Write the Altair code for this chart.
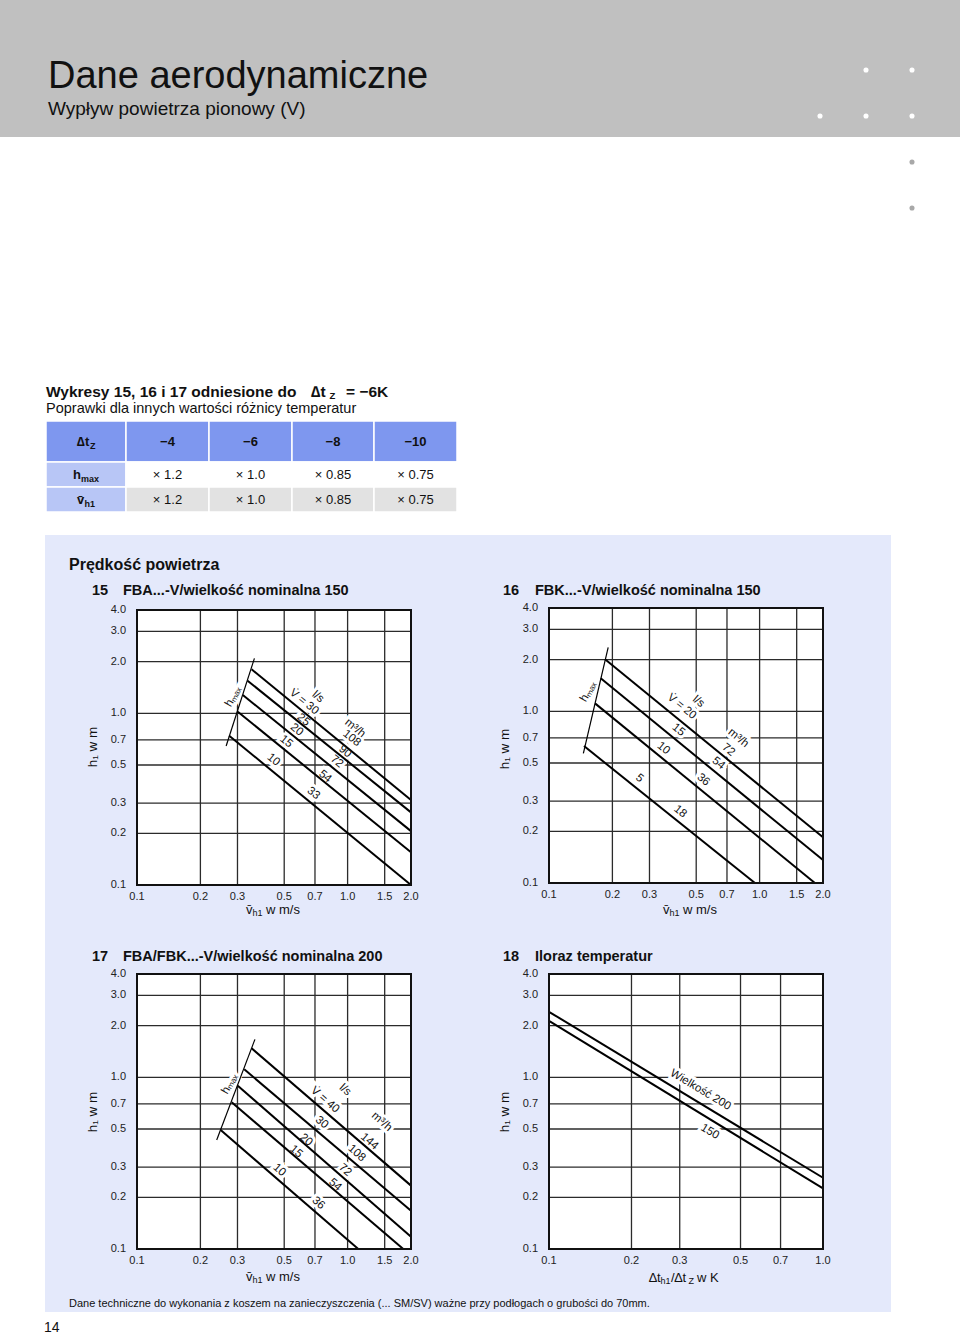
import altair as alt
import pandas as pd

FONT = "Liberation Sans"
INK = "#111111"
GRID = "#2b2b2b"

# ================= values =================
V_TICKS = [0.1, 0.2, 0.3, 0.5, 0.7, 1.0, 1.5, 2.0]
V_TICK_LABELS = ["0.1", "0.2", "0.3", "0.5", "0.7", "1.0", "1.5", "2.0"]
R_TICKS = [0.1, 0.2, 0.3, 0.5, 0.7, 1.0]
R_TICK_LABELS = ["0.1", "0.2", "0.3", "0.5", "0.7", "1.0"]
H_TICKS = [0.1, 0.2, 0.3, 0.5, 0.7, 1.0, 2.0, 3.0, 4.0]
H_TICK_LABELS = ["0.1", "0.2", "0.3", "0.5", "0.7", "1.0", "2.0", "3.0", "4.0"]

TABLE_DT = ["−4", "−6", "−8", "−10"]
TABLE_HMAX = ["× 1.2", "× 1.0", "× 0.85", "× 0.75"]
TABLE_VH1 = ["× 1.2", "× 1.0", "× 0.85", "× 0.75"]

# chart 15  FBA...-V / 150
C15_ID = ["30", "25", "20", "15", "10"]
C15_V_START = [0.350, 0.335, 0.318, 0.301, 0.274]
C15_H_START = [1.805, 1.549, 1.279, 1.022, 0.741]
C15_V_END = [2.0, 2.0, 2.0, 2.0, 2.0]
C15_H_END = [0.313, 0.265, 0.206, 0.155, 0.100]
C15_HMAX_V = [0.265, 0.361]
C15_HMAX_H = [0.645, 2.09]
C15_LABEL = ["V̇ = 30", "l/s", "25", "20", "15", "10", "m³/h", "108", "90", "72", "54", "33", "hₘₐₓ"]
C15_LABEL_V = [0.621, 0.723, 0.616, 0.573, 0.510, 0.444, 1.084, 1.046, 0.972, 0.888, 0.781, 0.687, 0.287]
C15_LABEL_H = [1.164, 1.245, 0.914, 0.800, 0.684, 0.535, 0.818, 0.715, 0.598, 0.523, 0.428, 0.342, 1.25]

# chart 16  FBK...-V / 150
C16_ID = ["20", "15", "10", "5"]
C16_V_START = [0.1845, 0.176, 0.1654, 0.1466]
C16_H_START = [2.01, 1.557, 1.113, 0.628]
C16_V_END = [2.0, 2.0, 1.83, 0.95]
C16_H_END = [0.1845, 0.136, 0.1, 0.1]
C16_HMAX_V = [0.1456, 0.191]
C16_HMAX_H = [0.569, 2.36]
C16_LABEL = ["V̇ = 20", "l/s", "15", "10", "5", "m³/h", "72", "54", "36", "18", "hₘₐₓ"]
C16_LABEL_V = [0.4265, 0.512, 0.411, 0.349, 0.2685, 0.792, 0.710, 0.637, 0.540, 0.419, 0.154]
C16_LABEL_H = [1.064, 1.138, 0.778, 0.609, 0.407, 0.697, 0.595, 0.498, 0.398, 0.260, 1.30]

# chart 17  FBA/FBK...-V / 200
C17_ID = ["40", "30", "20", "15", "10"]
C17_V_START = [0.350, 0.323, 0.301, 0.2816, 0.2496]
C17_H_START = [1.476, 1.114, 0.894, 0.715, 0.493]
C17_V_END = [2.0, 2.0, 2.0, 1.838, 1.124]
C17_H_END = [0.234, 0.167, 0.118, 0.1, 0.1]
C17_HMAX_V = [0.239, 0.363]
C17_HMAX_H = [0.4316, 1.665]
C17_LABEL = ["V̇ = 40", "l/s", "30", "20", "15", "10", "m³/h", "144", "108", "72", "54", "36", "hₘₐₓ"]
C17_LABEL_V = [0.781, 0.972, 0.753, 0.634, 0.569, 0.474, 1.451, 1.268, 1.104, 0.972, 0.871, 0.726, 0.2764]
C17_LABEL_H = [0.738, 0.844, 0.545, 0.431, 0.369, 0.288, 0.551, 0.422, 0.361, 0.288, 0.236, 0.1846, 0.914]

# chart 18  Iloraz temperatur
C18_ID = ["200", "150"]
C18_R_START = [0.1, 0.1]
C18_H_START = [2.41, 2.13]
C18_R_END = [1.0, 1.0]
C18_H_END = [0.260, 0.2257]
C18_LABEL = ["Wielkość 200", "150"]
C18_LABEL_R = [0.357, 0.386]
C18_LABEL_H = [0.844, 0.482]

# ================= layout (pixels) =================
G15 = dict(l=137, r=411, t=610, b=885)
G16 = dict(l=549, r=823, t=608, b=883)
G17 = dict(l=137, r=411, t=974, b=1249)
G18 = dict(l=549, r=823, t=974, b=1249)


def segments(ids, v0, h0, v1, h1):
    rows = []
    for i, a, b, c, d in zip(ids, v0, h0, v1, h1):
        rows.append({"id": i, "k": 0, "v": a, "h": b})
        rows.append({"id": i, "k": 1, "v": c, "h": d})
    return pd.DataFrame(rows)


def panel(g, xticks, xlabels, curves, hmax, labels):
    xs = alt.Scale(type="log", domain=[xticks[0], xticks[-1]], range=[g["l"], g["r"]])
    ys = alt.Scale(type="log", domain=[H_TICKS[0], H_TICKS[-1]], range=[g["b"], g["t"]])

    def X(f):
        return alt.X(f"{f}:Q", scale=xs, axis=None)

    def Y(f):
        return alt.Y(f"{f}:Q", scale=ys, axis=None)

    box = pd.DataFrame({"v0": [xticks[0]], "v1": [xticks[-1]], "h0": [H_TICKS[0]], "h1": [H_TICKS[-1]]})
    layers = []
    layers.append(alt.Chart(box).mark_rect(color="white").encode(x=X("v0"), x2="v1", y=Y("h0"), y2="h1"))
    vg = pd.DataFrame({"v": xticks[1:-1]})
    vg["h0"] = H_TICKS[0]
    vg["h1"] = H_TICKS[-1]
    layers.append(alt.Chart(vg).mark_rule(color=GRID, strokeWidth=1.3).encode(x=X("v"), y=Y("h0"), y2="h1"))
    hg = pd.DataFrame({"h": H_TICKS[1:-1]})
    hg["v0"] = xticks[0]
    hg["v1"] = xticks[-1]
    layers.append(alt.Chart(hg).mark_rule(color=GRID, strokeWidth=1.3).encode(y=Y("h"), x=X("v0"), x2="v1"))
    # label halos (interrupt grid lines like in the original)
    layers.append(alt.Chart(labels).mark_text(font=FONT, fontSize=11.5, fill="white", stroke="white",
                                              strokeWidth=6, align="center", baseline="middle").encode(
        x=X("v"), y=Y("h"), text="t:N", angle=alt.Angle("a:Q", scale=None)))
    layers.append(alt.Chart(curves).mark_line(color="black", strokeWidth=2).encode(
        x=X("v"), y=Y("h"), detail="id:N", order="k:Q"))
    if hmax is not None:
        layers.append(alt.Chart(hmax).mark_line(color="black", strokeWidth=1.2).encode(
            x=X("v"), y=Y("h"), detail="id:N", order="k:Q"))
    layers.append(alt.Chart(box).mark_rect(fillOpacity=0, stroke=INK, strokeWidth=2).encode(
        x=X("v0"), x2="v1", y=Y("h0"), y2="h1"))
    layers.append(alt.Chart(labels).mark_text(font=FONT, fontSize=11.5, color=INK, align="center",
                                              baseline="middle").encode(
        x=X("v"), y=Y("h"), text="t:N", angle=alt.Angle("a:Q", scale=None)))
    xl = pd.DataFrame({"v": xticks, "t": xlabels})
    layers.append(alt.Chart(xl).mark_text(font=FONT, fontSize=11, color="#222222", align="center",
                                          baseline="middle").encode(
        x=X("v"), y=alt.value(g["b"] + 12), text="t:N"))
    yl = pd.DataFrame({"h": H_TICKS, "t": H_TICK_LABELS})
    layers.append(alt.Chart(yl).mark_text(font=FONT, fontSize=11, color="#222222", align="right",
                                          baseline="middle").encode(
        y=Y("h"), x=alt.value(g["l"] - 11), text="t:N"))
    return layers


def labels_df(texts, vs, hs, angle, hmax_angle=300):
    a = [hmax_angle if t.startswith("h") else angle for t in texts]
    return pd.DataFrame({"t": texts, "v": vs, "h": hs, "a": a})


p15 = panel(G15, V_TICKS, V_TICK_LABELS,
            segments(C15_ID, C15_V_START, C15_H_START, C15_V_END, C15_H_END),
            segments(["h"], [C15_HMAX_V[0]], [C15_HMAX_H[0]], [C15_HMAX_V[1]], [C15_HMAX_H[1]]),
            labels_df(C15_LABEL, C15_LABEL_V, C15_LABEL_H, 39))
p16 = panel(G16, V_TICKS, V_TICK_LABELS,
            segments(C16_ID, C16_V_START, C16_H_START, C16_V_END, C16_H_END),
            segments(["h"], [C16_HMAX_V[0]], [C16_HMAX_H[0]], [C16_HMAX_V[1]], [C16_HMAX_H[1]]),
            labels_df(C16_LABEL, C16_LABEL_V, C16_LABEL_H, 39))
p17 = panel(G17, V_TICKS, V_TICK_LABELS,
            segments(C17_ID, C17_V_START, C17_H_START, C17_V_END, C17_H_END),
            segments(["h"], [C17_HMAX_V[0]], [C17_HMAX_H[0]], [C17_HMAX_V[1]], [C17_HMAX_H[1]]),
            labels_df(C17_LABEL, C17_LABEL_V, C17_LABEL_H, 41))
p18 = panel(G18, R_TICKS, R_TICK_LABELS,
            segments(C18_ID, C18_R_START, C18_H_START, C18_R_END, C18_H_END),
            None,
            labels_df(C18_LABEL, C18_LABEL_R, C18_LABEL_H, 31))

# ================= page decoration =================
PX = lambda f: alt.X(f"{f}:Q", scale=None, axis=None)
PY = lambda f: alt.Y(f"{f}:Q", scale=None, axis=None)

rects = pd.DataFrame([
    dict(x=0, x2=960, y=0, y2=137, c="#c0c0c0"),
    dict(x=45, x2=891, y=535, y2=1312, c="#e4e9fb"),
])
deco = [alt.Chart(rects).mark_rect().encode(x=PX("x"), x2="x2", y=PY("y"), y2="y2",
                                            color=alt.Color("c:N", scale=None))]

col_edges = [46, 126, 209, 292, 374, 457]
row_edges = [421, 462, 487, 512]
cells = []
for r in range(3):
    for c in range(5):
        if r == 0:
            col = "#7e97ef"
        elif c == 0:
            col = "#b8c6f6"
        elif r == 1:
            col = "#ffffff"
        else:
            col = "#e2e2e2"
        cells.append(dict(x=col_edges[c], x2=col_edges[c + 1], y=row_edges[r], y2=row_edges[r + 1], c=col))
deco.append(alt.Chart(pd.DataFrame(cells)).mark_rect(stroke="white", strokeWidth=1.5).encode(
    x=PX("x"), x2="x2", y=PY("y"), y2="y2", color=alt.Color("c:N", scale=None)))

dots = pd.DataFrame([
    dict(x=866, y=70, c="#ffffff"), dict(x=912, y=70, c="#ffffff"),
    dict(x=820, y=116, c="#ffffff"), dict(x=866, y=116, c="#ffffff"), dict(x=912, y=116, c="#ffffff"),
    dict(x=912, y=162, c="#a8a8a8"), dict(x=912, y=208, c="#a8a8a8"),
])
deco.append(alt.Chart(dots).mark_circle(size=26, opacity=1).encode(
    x=PX("x"), y=PY("y"), color=alt.Color("c:N", scale=None)))

texts = []  # (text, x, y, size, weight, align, angle)


def T(t, x, y, s, w="normal", a="left", ang=0):
    texts.append(dict(t=t, x=x, y=y, s=s, w=w, al=a, ang=ang))


T("Dane aerodynamiczne", 48, 88, 38)
T("Wypływ powietrza pionowy (V)", 48, 115, 19)
T("Wykresy 15, 16 i 17 odniesione do", 46, 397, 15.5, "bold")
T("∆t", 311, 397, 15.5, "bold")
T("Z", 329.5, 398.5, 9.5, "bold")
T("= −6K", 346, 397, 15.5, "bold")
T("Poprawki dla innych wartości różnicy temperatur", 46, 413, 14.5)

# table
T("∆t", 77, 446, 13, "bold")
T("Z", 90, 449, 9, "bold")
T("h", 73, 479, 13, "bold")
T("max", 81, 482, 9, "bold")
T("v̄", 77, 504, 13, "bold")
T("h1", 84.5, 507, 9, "bold")
centers = [(col_edges[i] + col_edges[i + 1]) / 2 for i in range(1, 5)]
for cx, dt, f1, f2 in zip(centers, TABLE_DT, TABLE_HMAX, TABLE_VH1):
    T(dt, cx, 446, 13, "bold", "center")
    T(f1, cx, 479, 13, "normal", "center")
    T(f2, cx, 504, 13, "normal", "center")

T("Prędkość powietrza", 69, 570, 16, "bold")
T("15", 92, 595, 14.5, "bold")
T("FBA...-V/wielkość nominalna 150", 123, 595, 14.5, "bold")
T("16", 503, 595, 14.5, "bold")
T("FBK...-V/wielkość nominalna 150", 535, 595, 14.5, "bold")
T("17", 92, 961, 14.5, "bold")
T("FBA/FBK...-V/wielkość nominalna 200", 123, 961, 14.5, "bold")
T("18", 503, 961, 14.5, "bold")
T("Iloraz temperatur", 535, 961, 14.5, "bold")

# x-axis titles
for x0, yb in [(246, 914), (663, 914), (246, 1281)]:
    T("v̄", x0, yb, 13)
    T("h1", x0 + 6.5, yb + 2, 9)
    T("w m/s", x0 + 20, yb, 13)
T("∆t", 649, 1282, 13)
T("h1", 660.5, 1284, 9)
T("/∆t", 671, 1282, 13)
T("Z", 688.5, 1284, 9)
T("w K", 697, 1282, 13)

T("Dane techniczne do wykonania z koszem na zanieczyszczenia (... SM/SV) ważne przy podłogach o grubości do 70mm.",
  69, 1307, 11)
T("14", 44, 1332, 14)

tdf = pd.DataFrame(texts)
for (w, al), sub in tdf.groupby(["w", "al"]):
    deco.append(alt.Chart(sub).mark_text(font=FONT, fontWeight=w, align=al, baseline="alphabetic",
                                         color=INK).encode(
        x=PX("x"), y=PY("y"), text="t:N", size=alt.Size("s:Q", scale=None),
        angle=alt.Angle("ang:Q", scale=None)))

ytitles = pd.DataFrame([dict(t="h₁ w m", x=93, y=747), dict(t="h₁ w m", x=505, y=749),
                        dict(t="h₁ w m", x=93, y=1112), dict(t="h₁ w m", x=505, y=1112)])
deco.append(alt.Chart(ytitles).mark_text(font=FONT, fontSize=13.5, angle=270, align="center",
                                         baseline="middle", color=INK).encode(
    x=PX("x"), y=PY("y"), text="t:N"))

chart = alt.layer(*deco, *p15, *p16, *p17, *p18).resolve_scale(
    x="independent", y="independent", color="independent", size="independent", angle="independent"
).properties(width=960, height=1335, padding=0, autosize="none", background="white"
             ).configure_view(strokeWidth=0)

chart.save("out.html", embed_options={"renderer": "svg", "actions": False})
